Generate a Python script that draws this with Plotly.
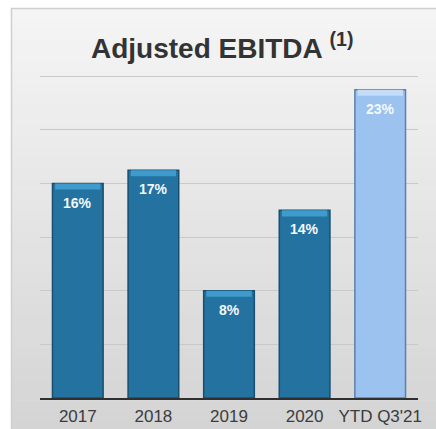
import plotly.graph_objects as go

categories = ["2017", "2018", "2019", "2020", "YTD Q3'21"]
values = [16, 17, 8, 14, 23]
labels = ["16%", "17%", "8%", "14%", "23%"]
bar_colors = ["#23729f", "#23729f", "#23729f", "#23729f", "#9cc3f0"]
edge_colors = ["#184f70", "#184f70", "#184f70", "#184f70", "#5f7fa8"]
bevel_colors = ["#3f9bcc", "#3f9bcc", "#3f9bcc", "#3f9bcc", "#c4dcf8"]

W, H = 436, 429
ml, mr, mt, mb = 40, 18, 75, 31
pw, ph = W - ml - mr, H - mt - mb

def px_x(x):
    return (x - ml) / pw

def px_y(y):
    return (H - mb - y) / ph

fig = go.Figure()

fig.add_trace(go.Bar(
    x=categories, y=values, width=0.67,
    marker=dict(color=bar_colors, line=dict(color=edge_colors, width=1.5)),
    hoverinfo="skip", showlegend=False,
))
bevel_h = [0.45] * len(values)
fig.add_trace(go.Bar(
    x=categories, y=bevel_h, base=[v - b for v, b in zip(values, bevel_h)], width=0.6,
    marker=dict(color=bevel_colors, line=dict(width=0)),
    hoverinfo="skip", showlegend=False,
))

for i, (v, t) in enumerate(zip(values, labels)):
    fig.add_annotation(x=i, y=v, text="<b>%s</b>" % t, showarrow=False, yshift=-19,
                       font=dict(family="Liberation Sans", size=14, color="#f4f8fb"),
                       xref="x", yref="y")

# background gradient panel
shapes = []
top, bottom = 8, 432
n = 40
c0, c1 = (245, 245, 245), (212, 212, 212)
for i in range(n):
    y0 = top + (bottom - top) * i / n
    y1 = top + (bottom - top) * (i + 1) / n + 0.6
    f = i / (n - 1)
    col = tuple(round(a + (b - a) * f) for a, b in zip(c0, c1))
    shapes.append(dict(type="rect", xref="paper", yref="paper",
                       x0=px_x(11), x1=px_x(440), y0=px_y(y1), y1=px_y(y0),
                       fillcolor="rgb(%d,%d,%d)" % col, line=dict(width=0), layer="below"))
shapes.append(dict(type="rect", xref="paper", yref="paper",
                   x0=px_x(11.5), x1=px_x(445), y0=px_y(440), y1=px_y(8.5),
                   fillcolor="rgba(0,0,0,0)", line=dict(color="#cfcfcf", width=1.5), layer="below"))

fig.update_layout(
    width=W, height=H,
    margin=dict(l=ml, r=mr, t=mt, b=mb),
    paper_bgcolor="white", plot_bgcolor="rgba(0,0,0,0)",
    barmode="overlay", bargap=0.33,
    shapes=shapes,
    showlegend=False,
    xaxis=dict(type="category", range=[-0.5, len(categories) - 0.5],
               showline=True, linecolor="#2f2f2f", linewidth=1.5, ticks="",
               ticklabelstandoff=2,
               tickfont=dict(family="Liberation Sans", size=17, color="#3c3c3c"),
               showgrid=False, zeroline=False, automargin=False, fixedrange=True),
    yaxis=dict(range=[0, 24.1], tickvals=[4, 8, 12, 16, 20, 24], showticklabels=False, showgrid=True,
               gridcolor="#c9c9c9", gridwidth=1, zeroline=False, showline=False,
               automargin=False, fixedrange=True),
)

fig.add_annotation(xref="paper", yref="paper", x=px_x(222), y=px_y(46),
                   text="<b>Adjusted EBITDA <sup>(1)</sup></b>", showarrow=False,
                   xanchor="center", yanchor="middle",
                   font=dict(family="Liberation Sans", size=28, color="#333333"))

fig.write_html("out.html")
